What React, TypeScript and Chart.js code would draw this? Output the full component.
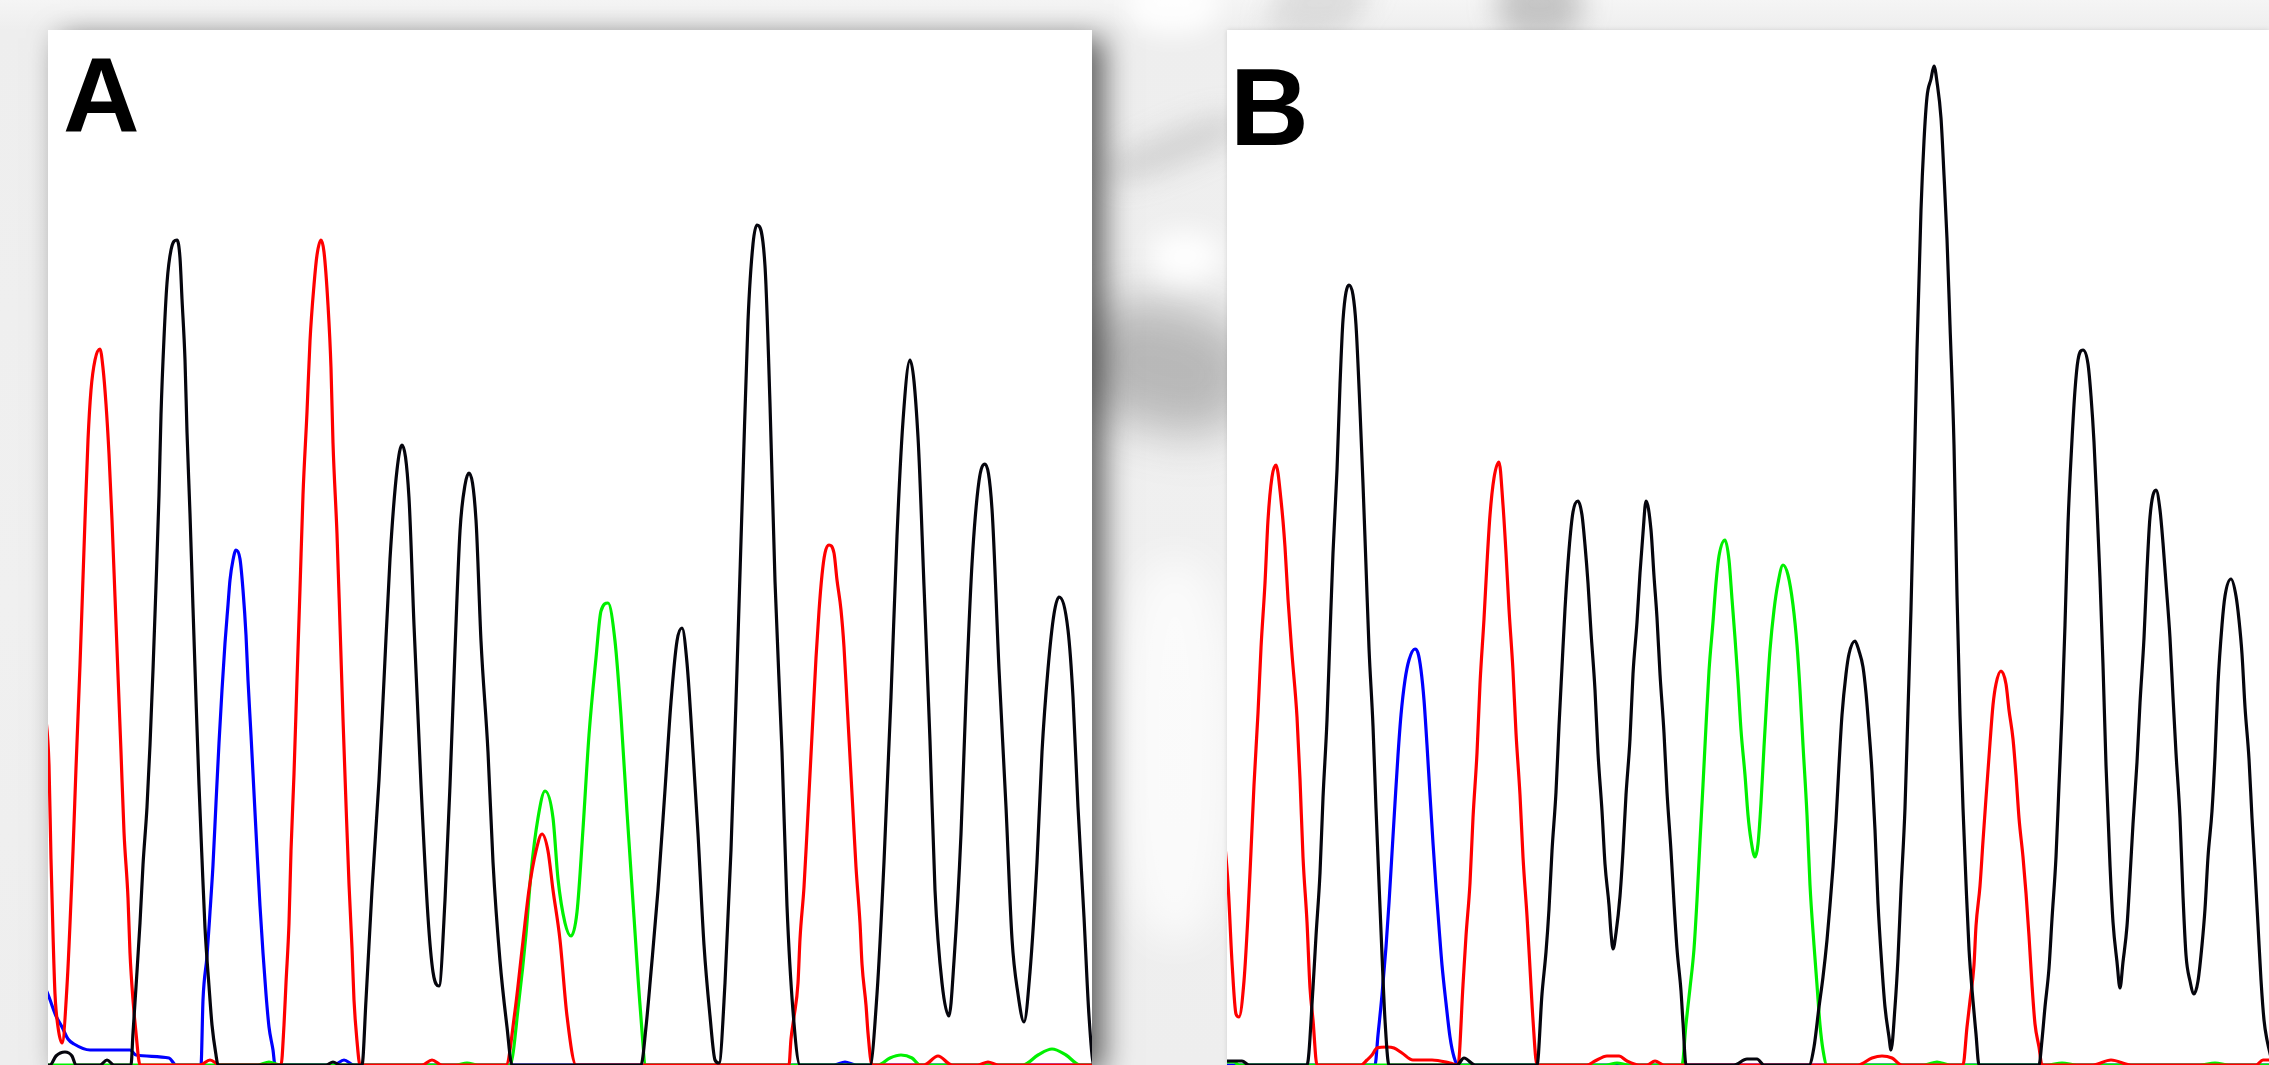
import React, { useEffect, useRef } from 'react';
import { Chart, registerables } from 'chart.js';

Chart.register(...registerables);

type Pt = [number, number];

// Panel A traces: [scan, intensity]
const A_BLACK: Pt[] = [
  [-4, 0], [2, 0], [8, 9], [17, 13], [24, 9], [28, 0], [52, 0], [59, 5], [66, 0], [83, 0],
  [85, 32], [88, 78], [92, 142], [95, 200], [99, 258], [102, 320], [105, 395], [108, 479], [111, 570],
  [113, 650], [116, 727], [119, 782], [123, 815], [129, 825], [132, 807], [134, 766], [137, 705],
  [139, 633], [142, 551], [145, 457], [148, 366], [151, 280], [154, 206], [157, 137], [161, 79],
  [164, 40], [168, 10], [170, 0], [278, 0], [285, 3], [292, 0], [314, 0],
  [318, 65], [324, 175], [331, 285], [336, 385], [342, 506], [349, 595], [354, 620], [361, 567],
  [366, 440], [373, 280], [380, 148], [385, 93], [391, 79], [397, 165], [402, 280], [407, 415],
  [412, 534], [417, 580], [421, 592], [428, 545], [433, 424], [440, 313], [445, 203], [452, 104],
  [459, 38], [464, 0], [593, 0], [598, 38], [603, 93], [610, 175], [617, 275], [623, 363],
  [629, 424], [634, 437], [639, 402], [645, 313], [650, 231], [656, 120], [662, 49], [667, 5],
  [671, 2], [677, 82], [683, 215], [689, 395], [695, 589], [700, 744], [705, 821], [709, 840],
  [717, 799], [722, 661], [727, 484], [734, 313], [739, 159], [745, 54], [752, 0], [822, 0],
  [829, 71], [836, 203], [843, 368], [849, 529], [855, 644], [862, 705], [870, 628], [876, 479],
  [882, 324], [887, 175], [894, 82], [901, 49], [906, 104], [913, 231], [918, 368], [924, 501],
  [931, 584], [937, 601], [944, 556], [951, 396], [958, 258], [964, 126], [970, 71], [976, 43],
  [982, 93], [989, 203], [994, 313], [1000, 396], [1006, 451], [1011, 468], [1020, 435],
  [1025, 368], [1030, 258], [1036, 148], [1041, 49], [1046, 0], [1050, 0],
];

const A_RED: Pt[] = [
  [-4, 360], [1, 300], [3, 206], [5, 131], [7, 71], [10, 38], [14, 22], [19, 79], [25, 214],
  [28, 297], [32, 400], [37, 545], [40, 625], [43, 675], [47, 705], [52, 716], [55, 697],
  [58, 661], [61, 611], [64, 545], [67, 468], [70, 390], [73, 313], [76, 233], [80, 167],
  [82, 112], [85, 65], [88, 32], [92, 0], [152, 0], [162, 5], [172, 0], [233, 0], [236, 40],
  [238, 82], [241, 142], [243, 214], [246, 291], [249, 385], [252, 476], [255, 570], [259, 653],
  [262, 724], [266, 780], [269, 810], [273, 825], [276, 813], [280, 760], [283, 697], [285, 622],
  [289, 531], [292, 440], [295, 346], [298, 261], [301, 181], [304, 117], [306, 65], [309, 24],
  [312, 0], [374, 0], [384, 5], [394, 0], [458, 0], [467, 54], [474, 115], [481, 175], [488, 214],
  [494, 231], [500, 214], [505, 175], [512, 125], [519, 49], [528, 0], [741, 0], [743, 26],
  [746, 48], [750, 82], [752, 126], [756, 178], [759, 233], [762, 291], [765, 349], [768, 407],
  [771, 454], [774, 490], [777, 512], [781, 520], [786, 512], [789, 485], [793, 455], [796, 418],
  [799, 363], [802, 308], [805, 253], [808, 198], [812, 142], [814, 101], [818, 60], [820, 32],
  [824, 0], [876, 0], [890, 9], [904, 0], [930, 0], [940, 3], [950, 0], [1050, 0],
];

const A_GREEN: Pt[] = [
  [-4, 0], [210, 0], [221, 3], [232, 0], [408, 0], [419, 2], [430, 0], [462, 0], [471, 65],
  [478, 131], [483, 192], [490, 247], [497, 274], [505, 247], [510, 186], [517, 142], [523, 129],
  [529, 153], [535, 236], [541, 330], [548, 407], [553, 454], [560, 462], [567, 424], [573, 349],
  [579, 253], [586, 148], [592, 60], [598, 0], [830, 0], [842, 7], [853, 10], [864, 7], [872, 0],
  [975, 0], [990, 10], [1004, 16], [1018, 10], [1032, 0], [1050, 0],
];

const A_BLUE: Pt[] = [
  [-4, 80], [1, 68], [8, 49], [14, 38], [20, 26], [26, 21], [42, 15], [82, 15], [88, 10],
  [121, 7], [128, 0], [153, 0], [155, 65], [159, 109], [162, 153], [165, 200], [168, 262],
  [171, 322], [174, 375], [177, 422], [180, 460], [182, 485], [185, 505], [188, 515], [192, 506],
  [195, 475], [198, 430], [200, 385], [203, 330], [206, 272], [209, 214], [212, 159], [215, 112],
  [218, 71], [221, 38], [225, 15], [227, 0], [286, 0], [296, 5], [306, 0], [786, 0], [797, 3],
  [808, 0], [1050, 0],
];

// Panel B traces: [scan, intensity]
const B_BLACK: Pt[] = [
  [-4, 4], [15, 4], [22, 0], [80, 0], [86, 77], [89, 129], [93, 192], [96, 267], [100, 345],
  [103, 430], [106, 512], [110, 595], [113, 680], [116, 745], [122, 780], [126, 770], [129, 740],
  [133, 655], [136, 581], [139, 499], [142, 417], [146, 339], [149, 257], [152, 182], [155, 110],
  [158, 45], [162, 0], [230, 0], [237, 7], [248, 0], [310, 0], [315, 71], [319, 113], [322, 156],
  [325, 214], [329, 273], [332, 339], [335, 398], [338, 456], [342, 515], [346, 553], [351, 564],
  [355, 550], [358, 520], [361, 482], [364, 433], [368, 375], [371, 312], [375, 254], [378, 201],
  [382, 160], [384, 132], [386, 116], [389, 132], [393, 169], [396, 214], [399, 270], [403, 326],
  [406, 391], [410, 443], [413, 492], [416, 532], [419, 564], [424, 535], [427, 489], [430, 447],
  [433, 391], [437, 332], [440, 273], [444, 214], [447, 162], [450, 116], [454, 74], [456, 42],
  [459, 0], [507, 0], [520, 6], [530, 6], [537, 0], [582, 0], [587, 18], [592, 58], [596, 88],
  [600, 125], [603, 160], [606, 198], [609, 244], [612, 300], [615, 350], [619, 391], [622, 411],
  [628, 424], [632, 414], [636, 398], [639, 372], [642, 335], [645, 293], [648, 235], [651, 162],
  [655, 97], [658, 58], [662, 28], [664, 15], [668, 58], [671, 107], [674, 175], [678, 257],
  [681, 355], [684, 456], [687, 580], [690, 715], [694, 855], [697, 924], [700, 968], [704, 986],
  [707, 999], [710, 983], [714, 947], [717, 890], [720, 826], [723, 740], [727, 620], [730, 470],
  [733, 350], [736, 257], [739, 182], [742, 116], [746, 64], [749, 31], [752, 0], [812, 0],
  [815, 25], [818, 58], [822, 97], [825, 146], [829, 208], [832, 280], [835, 352], [838, 440],
  [841, 541], [845, 625], [848, 675], [851, 705], [856, 715], [861, 701], [864, 669], [867, 623],
  [870, 558], [873, 486], [876, 400], [879, 300], [883, 200], [886, 143], [890, 103], [893, 77],
  [896, 103], [900, 139], [903, 188], [906, 241], [910, 303], [913, 362], [917, 427], [920, 495],
  [923, 548], [929, 575], [933, 555], [936, 522], [939, 482], [943, 427], [946, 368], [949, 312],
  [953, 247], [956, 169], [959, 110], [963, 84], [967, 71], [971, 84], [975, 120], [978, 156],
  [981, 208], [985, 254], [988, 309], [991, 381], [995, 440], [998, 469], [1004, 486], [1009, 469],
  [1012, 445], [1015, 411], [1018, 358], [1022, 306], [1025, 247], [1028, 195], [1031, 140],
  [1034, 85], [1037, 45], [1040, 25], [1046, 0],
];

const B_RED: Pt[] = [
  [-4, 240], [1, 182], [5, 103], [9, 51], [12, 48], [17, 84], [21, 150], [24, 214], [27, 280],
  [31, 352], [34, 417], [38, 482], [41, 545], [45, 588], [49, 600], [54, 565], [58, 518], [61, 466],
  [65, 411], [70, 348], [73, 286], [76, 208], [80, 143], [83, 77], [86, 45], [90, 0], [134, 0],
  [140, 5], [145, 10], [150, 17], [160, 18], [167, 17], [175, 12], [186, 5], [205, 5], [223, 2],
  [231, 0], [236, 80], [239, 129], [243, 182], [246, 247], [250, 312], [253, 381], [257, 446],
  [260, 502], [263, 550], [267, 587], [272, 603], [276, 560], [279, 512], [282, 456], [286, 394],
  [289, 332], [293, 270], [296, 208], [300, 149], [303, 97], [306, 45], [310, 0], [360, 0],
  [368, 4], [380, 9], [392, 9], [400, 4], [412, 0], [420, 0], [428, 4], [437, 0], [631, 0],
  [645, 7], [655, 9], [665, 7], [675, 0], [736, 0], [740, 38], [743, 64], [747, 100], [749, 139],
  [753, 179], [756, 224], [759, 267], [763, 322], [766, 360], [769, 381], [774, 394], [779, 381],
  [782, 355], [786, 326], [789, 290], [792, 247], [796, 208], [799, 172], [802, 129], [805, 80],
  [808, 41], [812, 18], [815, 0], [866, 0], [884, 5], [904, 0], [1029, 0], [1036, 5], [1050, 5],
];

const B_GREEN: Pt[] = [
  [-4, 3], [7, 3], [12, 0], [379, 0], [390, 2], [402, 0], [455, 0], [459, 41], [463, 77],
  [467, 116], [470, 165], [473, 224], [476, 280], [479, 339], [482, 394], [486, 443], [489, 482],
  [492, 509], [498, 525], [502, 505], [505, 466], [508, 427], [511, 384], [514, 335], [518, 290],
  [521, 250], [524, 225], [528, 208], [531, 221], [534, 262], [537, 318], [540, 370], [543, 415],
  [547, 455], [551, 482], [556, 500], [561, 490], [566, 460], [570, 420],
  [573, 375], [576, 320], [580, 250], [583, 180], [587, 120], [590, 80], [593, 40], [596, 15],
  [600, 0], [697, 0], [710, 3], [723, 0], [820, 0], [835, 2], [850, 0], [973, 0], [988, 2],
  [1002, 0], [1050, 0],
];

const B_BLUE: Pt[] = [
  [-4, 0], [148, 0], [151, 30], [155, 70], [159, 118], [162, 162], [165, 212], [168, 262],
  [171, 310], [174, 350], [178, 385], [182, 405], [188, 416], [191, 412], [194, 395], [197, 365],
  [200, 320], [203, 270], [206, 222], [209, 178], [212, 138], [215, 100], [219, 62], [223, 28],
  [227, 8], [231, 0], [1050, 0],
];

const COLORS = {
  black: '#05050d',
  red: '#ff0000',
  green: '#00f000',
  blue: '#0000ff',
};

type Trace = { name: string; color: string; points: Pt[] };

const PANEL_A_TRACES: Trace[] = [
  { name: 'G', color: COLORS.black, points: A_BLACK },
  { name: 'T', color: COLORS.red, points: A_RED },
  { name: 'A', color: COLORS.green, points: A_GREEN },
  { name: 'C', color: COLORS.blue, points: A_BLUE },
];

const PANEL_B_TRACES: Trace[] = [
  { name: 'G', color: COLORS.black, points: B_BLACK },
  { name: 'T', color: COLORS.red, points: B_RED },
  { name: 'A', color: COLORS.green, points: B_GREEN },
  { name: 'C', color: COLORS.blue, points: B_BLUE },
];

type PanelProps = {
  left: number;
  top: number;
  width: number;
  height: number;
  label: string;
  labelLeft: number;
  labelTop: number;
  labelSize: number;
  traces: Trace[];
  shadow: string;
};

function Panel(p: PanelProps) {
  const ref = useRef<HTMLCanvasElement>(null);
  useEffect(() => {
    const canvas = ref.current;
    if (!canvas) return;
    const chart = new Chart(canvas, {
      type: 'line',
      data: {
        datasets: p.traces.map((t) => ({
          label: t.name,
          data: t.points.map(([x, y]) => ({ x, y })),
          borderColor: t.color,
          backgroundColor: t.color,
          borderWidth: 3.2,
          pointRadius: 0,
          fill: false,
          cubicInterpolationMode: 'monotone' as const,
          borderJoinStyle: 'round' as const,
        })),
      },
      options: {
        animation: false,
        responsive: false,
        maintainAspectRatio: false,
        devicePixelRatio: 1,
        events: [],
        layout: { padding: 0 },
        plugins: {
          legend: { display: false },
          tooltip: { enabled: false },
          title: { display: false },
        },
        scales: {
          x: { type: 'linear', min: 0, max: p.width, display: false },
          y: { type: 'linear', min: 0, max: p.height, display: false },
        },
      },
    });
    return () => chart.destroy();
  }, []);

  return (
    <div
      style={{
        position: 'absolute',
        left: p.left,
        top: p.top,
        width: p.width,
        height: p.height,
        background: '#ffffff',
        boxShadow: p.shadow,
      }}
    >
      <canvas
        ref={ref}
        width={p.width}
        height={p.height}
        style={{ position: 'absolute', left: 0, top: 0, width: p.width, height: p.height }}
      />
      <div
        style={{
          position: 'absolute',
          left: p.labelLeft,
          top: p.labelTop,
          fontFamily: '"Liberation Sans", Arial, sans-serif',
          fontWeight: 700,
          fontSize: p.labelSize,
          lineHeight: 1,
          color: '#000',
          whiteSpace: 'nowrap',
        }}
      >
        {p.label}
      </div>
    </div>
  );
}

type Blob = {
  left: number;
  top: number;
  width: number;
  height: number;
  color: string;
  blur: number;
  transform?: string;
};

const BLOBS: Blob[] = [
  { left: 1078, top: 305, width: 175, height: 125, color: 'rgba(80,80,80,0.34)', blur: 24, transform: 'rotate(14deg)' },
  { left: 1150, top: 232, width: 70, height: 50, color: 'rgba(255,255,255,0.95)', blur: 14 },
  { left: 1105, top: 130, width: 140, height: 36, color: 'rgba(130,130,130,0.25)', blur: 14, transform: 'rotate(-22deg)' },
  { left: 1120, top: 560, width: 110, height: 380, color: 'rgba(255,255,255,0.7)', blur: 20 },
  { left: 1497, top: -30, width: 85, height: 68, color: 'rgba(120,120,120,0.38)', blur: 14 },
  { left: 1272, top: -30, width: 95, height: 66, color: 'rgba(150,150,150,0.25)', blur: 14, transform: 'skewX(-20deg)' },
  { left: 1128, top: -25, width: 90, height: 60, color: 'rgba(255,255,255,0.85)', blur: 12 },
];

export default function App() {
  return (
    <div
      style={{
        position: 'fixed',
        left: 0,
        top: 0,
        width: 2269,
        height: 1065,
        overflow: 'hidden',
        background: 'linear-gradient(180deg, #f5f5f5 0px, #eeeeee 30px, #f0f0f0 600px, #eeeeee 1065px)',
      }}
    >
      {BLOBS.map((b, i) => (
        <div
          key={i}
          style={{
            position: 'absolute',
            left: b.left,
            top: b.top,
            width: b.width,
            height: b.height,
            background: b.color,
            filter: `blur(${b.blur}px)`,
            transform: b.transform,
            borderRadius: '40%',
          }}
        />
      ))}
      <Panel
        left={48}
        top={30}
        width={1044}
        height={1035}
        label="A"
        labelLeft={15}
        labelTop={12}
        labelSize={106}
        traces={PANEL_A_TRACES}
        shadow="12px 8px 28px rgba(0,0,0,0.6)"
      />
      <Panel
        left={1227}
        top={30}
        width={1042}
        height={1035}
        label="B"
        labelLeft={3}
        labelTop={23}
        labelSize={109}
        traces={PANEL_B_TRACES}
        shadow="0px 0px 5px rgba(0,0,0,0.12)"
      />
    </div>
  );
}
